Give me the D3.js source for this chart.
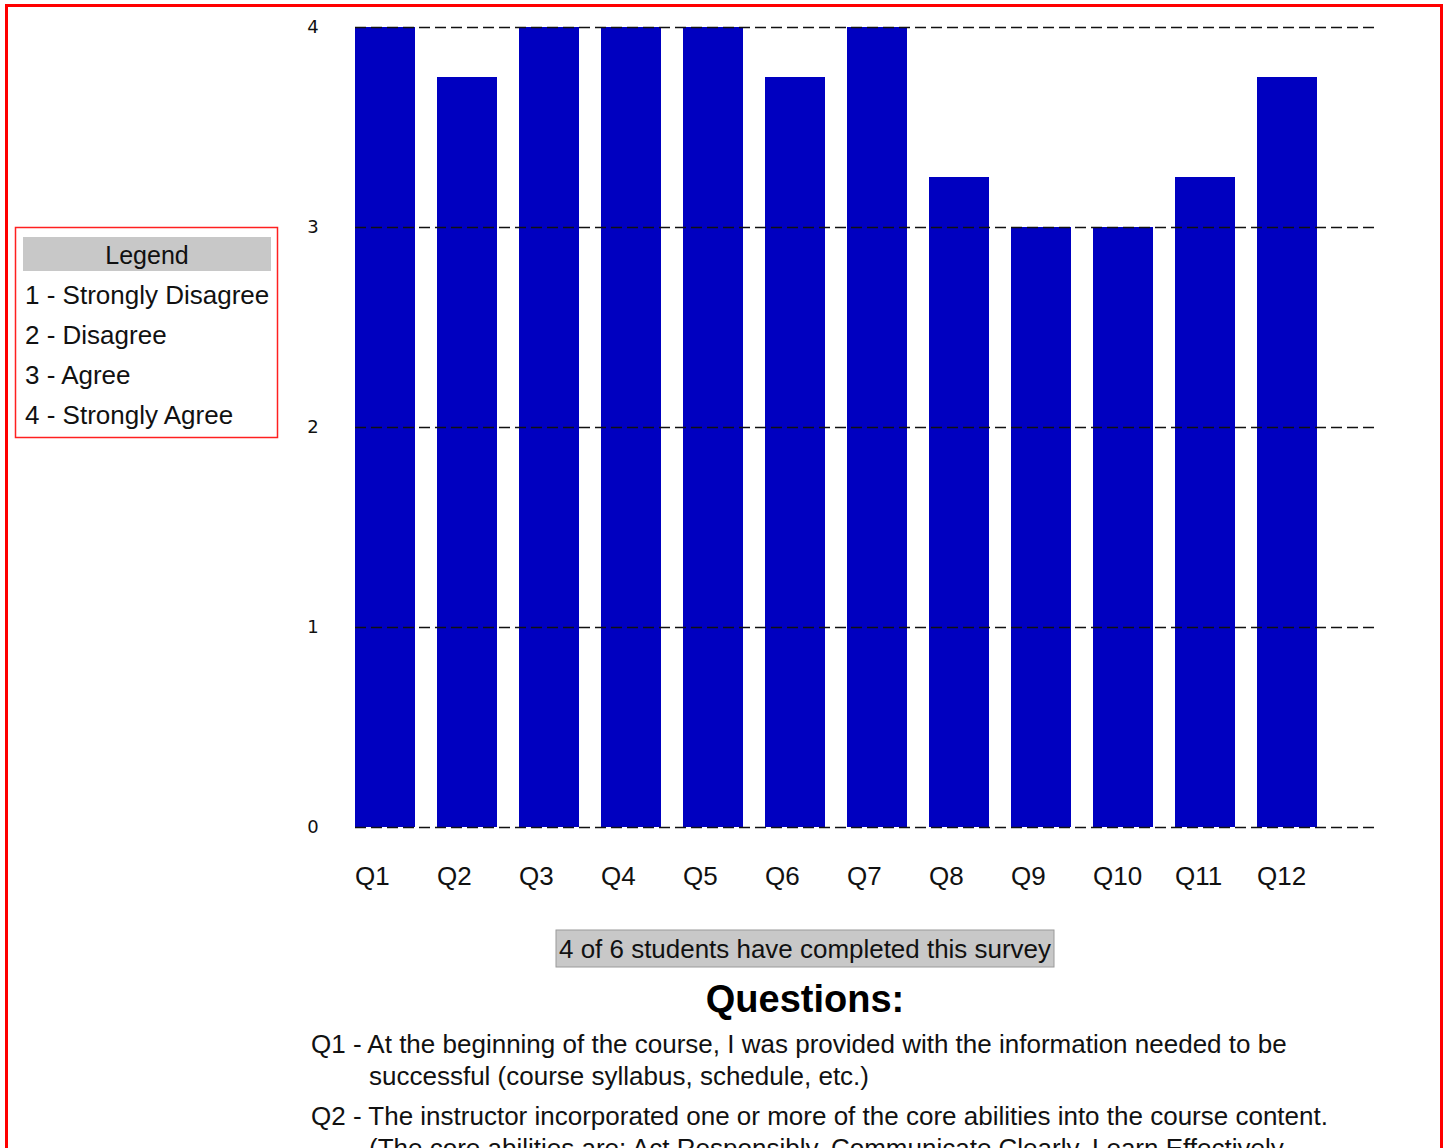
<!DOCTYPE html>
<html>
<head>
<meta charset="utf-8">
<script src="https://cdn.jsdelivr.net/npm/d3@7"></script>
<style>
  body { margin: 0; background: #fff; }
  text { font-family: Arial, "Liberation Sans", sans-serif; fill: #111; }
</style>
</head>
<body>
<div id="chart"></div>
<script>
var questions = ["Q1", "Q2", "Q3", "Q4", "Q5", "Q6", "Q7", "Q8", "Q9", "Q10", "Q11", "Q12"]
var averages = [4, 3.75, 4, 4, 4, 3.75, 4, 3.25, 3, 3, 3.25, 3.75]
var yTicks = [0, 1, 2, 3, 4]
var legendItems = ["1 - Strongly Disagree", "2 - Disagree", "3 - Agree", "4 - Strongly Agree"]
var completion = "4 of 6 students have completed this survey"
var questionText = [
  ["Q1 - ", "At the beginning of the course, I was provided with the information needed to be",
   "successful (course syllabus, schedule, etc.)"],
  ["Q2 - ", "The instructor incorporated one or more of the core abilities into the course content.",
   "(The core abilities are: Act Responsibly, Communicate Clearly, Learn Effectively,"]
]

var W = 1447, H = 1148
var svg = d3.select("#chart").append("svg")
  .attr("width", W)
  .attr("height", H)

// page frame
svg.append("rect")
  .attr("x", 6.5).attr("y", 5.5)
  .attr("width", 1435).attr("height", 1200)
  .attr("fill", "none").attr("stroke", "#ff0000").attr("stroke-width", 3)

var x = d3.scaleBand()
  .domain(questions)
  .range([355, 1317])
  .paddingInner(22 / 82)
  .paddingOuter(0)

var y = d3.scaleLinear()
  .domain([0, 4])
  .range([827, 27])

var plot = svg.append("g")

plot.selectAll("rect.bar")
  .data(averages)
  .enter().append("rect")
    .attr("class", "bar")
    .attr("x", function (d, i) { return x(questions[i]) })
    .attr("y", function (d) { return y(d) })
    .attr("width", x.bandwidth())
    .attr("height", function (d) { return y(0) - y(d) })
    .attr("fill", "#0000c0")

// dashed grid lines sit on top of the bars
plot.selectAll("line.grid")
  .data(yTicks)
  .enter().append("line")
    .attr("class", "grid")
    .attr("x1", 355).attr("x2", 1376)
    .attr("y1", function (d) { return y(d) + 0.5 })
    .attr("y2", function (d) { return y(d) + 0.5 })
    .attr("stroke", "#111").attr("stroke-width", 1.5)
    .attr("stroke-dasharray", "11,5")

plot.selectAll("text.ytick")
  .data(yTicks)
  .enter().append("text")
    .attr("class", "ytick")
    .attr("x", 313)
    .attr("y", function (d) { return y(d) + 6 })
    .attr("text-anchor", "middle")
    .style("font-family", "Verdana, 'DejaVu Sans', sans-serif")
    .style("font-size", "18px")
    .text(function (d) { return d })

plot.selectAll("text.xtick")
  .data(questions)
  .enter().append("text")
    .attr("class", "xtick")
    .attr("x", function (d) { return x(d) })
    .attr("y", 885)
    .style("font-size", "26px")
    .text(function (d) { return d })

// legend
var legend = svg.append("g")
legend.append("rect")
  .attr("x", 15.5).attr("y", 227.5)
  .attr("width", 262).attr("height", 210)
  .attr("fill", "#fff").attr("stroke", "#ff2020").attr("stroke-width", 1.5)
legend.append("rect")
  .attr("x", 23).attr("y", 237)
  .attr("width", 248).attr("height", 34)
  .attr("fill", "#c8c8c8")
legend.append("text")
  .attr("x", 147).attr("y", 264)
  .attr("text-anchor", "middle")
  .style("font-size", "25px")
  .text("Legend")
legend.selectAll("text.item")
  .data(legendItems)
  .enter().append("text")
    .attr("class", "item")
    .attr("x", 25)
    .attr("y", function (d, i) { return 304 + i * 40 })
    .style("font-size", "26px")
    .text(function (d) { return d })

// completion box
svg.append("rect")
  .attr("x", 556).attr("y", 930)
  .attr("width", 498).attr("height", 37)
  .attr("fill", "#c8c8c8").attr("stroke", "#9a9a9a").attr("stroke-width", 1)
svg.append("text")
  .attr("x", 805).attr("y", 958)
  .attr("text-anchor", "middle")
  .style("font-size", "26px")
  .attr("textLength", 492)
  .attr("lengthAdjust", "spacingAndGlyphs")
  .text(completion)

svg.append("text")
  .attr("x", 805).attr("y", 1012)
  .attr("text-anchor", "middle")
  .style("font-size", "38px").style("font-weight", "bold")
  .style("fill", "#000")
  .text("Questions:")

var qg = svg.append("g")
questionText.forEach(function (q, i) {
  var top = 1053 + i * 72
  qg.append("text")
    .attr("x", 311).attr("y", top)
    .style("font-size", "26px")
    .text(q[0] + q[1])
  qg.append("text")
    .attr("x", 369).attr("y", top + 32)
    .style("font-size", "26px")
    .text(q[2])
})
</script>
</body>
</html>
